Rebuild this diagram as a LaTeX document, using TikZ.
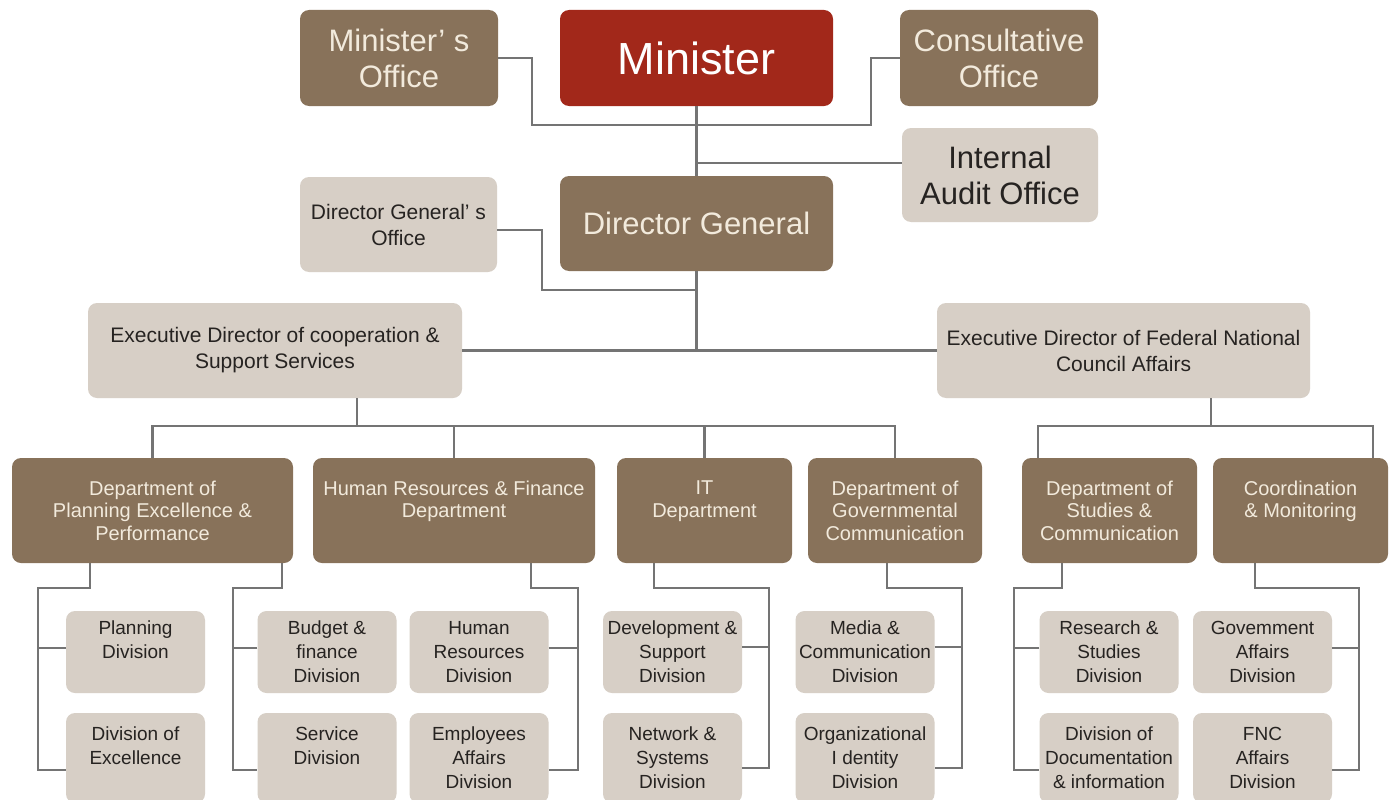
\documentclass[tikz,border=0pt]{standalone}
\usepackage{fontspec}
\setmainfont{Liberation Sans}
\definecolor{boxbrown}{HTML}{88725A}
\definecolor{boxred}{HTML}{A2281A}
\definecolor{boxgray}{HTML}{D7CFC6}
\definecolor{linegray}{HTML}{747474}
\definecolor{cream}{HTML}{F2EADC}
\definecolor{ink}{HTML}{262321}
\begin{document}
\begin{tikzpicture}[x=1pt,y=-1pt,
  box/.style={rounded corners=9pt, align=center, inner sep=0pt},
  brownbox/.style={box, fill=boxbrown, text=cream},
  redbox/.style={box, fill=boxred, text=white},
  graybox/.style={box, fill=boxgray, text=ink},
  fhuge/.style={font=\fontsize{45}{50}\selectfont},
  fbig/.style={font=\fontsize{31}{36}\selectfont},
  fmid/.style={font=\fontsize{21}{26}\selectfont},
  fdept/.style={font=\fontsize{20}{22.5}\selectfont},
  fdiv/.style={font=\fontsize{19}{24}\selectfont},
  topbox/.style={minimum width=198pt, minimum height=96pt},
  deptbox/.style={brownbox, fdept, minimum height=105pt},
  divbox/.style={graybox, fdiv, minimum width=139pt},
  row1/.style={divbox, minimum height=82pt},
  row2/.style={divbox, minimum height=90pt},
  conn/.style={draw=linegray, line width=2.6pt},
]
\fill[white] (0,0) rectangle (1394,800);
\useasboundingbox (0,0) rectangle (1394,800);

% top management
\node[brownbox, fbig, topbox] (mo) at (399,58) {Minister’ s\\Office};
\node[redbox, fhuge, minimum width=273pt, minimum height=96pt] (min) at (696.5,58) {Minister};
\node[brownbox, fbig, topbox] (co) at (999,58) {Consultative\\Office};
\node[graybox, fbig, minimum width=196pt, minimum height=94pt] (ia) at (1000,175) {Internal\\Audit Office};
\node[brownbox, fbig, minimum width=273pt, minimum height=95pt] (dg) at (696.5,223.5) {Director General};
\node[graybox, fmid, minimum width=197pt, minimum height=95pt] (dgo) at (398.5,224.5) {Director General’ s\\Office};

% executive directors
\node[graybox, fmid, minimum width=374pt, minimum height=95pt] (ec) at (275,350.5) {Executive Director of cooperation \&\\Support Services};
\node[graybox, fmid, minimum width=373pt, minimum height=95pt] (ef) at (1123.5,350.5) {Executive Director of Federal National\\Council Affairs};

% departments
\node[deptbox, minimum width=281pt] (d1) at (152.5,510.5) {Department of\\Planning Excellence \&\\Performance};
\node[deptbox, minimum width=282pt] (d2) at (454,510.5) {Human Resources \& Finance\\Department\\~};
\node[deptbox, minimum width=175pt] (d3) at (704.5,510.5) {IT\\Department\\~};
\node[deptbox, minimum width=174pt] (d4) at (895,510.5) {Department of\\Governmental\\Communication};
\node[deptbox, minimum width=175pt] (d5) at (1109.5,510.5) {Department of\\Studies \&\\Communication};
\node[deptbox, minimum width=175pt] (d6) at (1300.5,510.5) {Coordination\\\& Monitoring\\~};

% divisions
\node[row1] (pl) at (135.5,652) {Planning\\Division\\~};
\node[row2] (ex) at (135.5,758) {Division of\\Excellence\\~};
\node[row1] (bf) at (327,652) {Budget \&\\finance\\Division};
\node[row2] (sv) at (327,758) {Service\\Division\\~};
\node[row1] (hr) at (479,652) {Human\\Resources\\Division};
\node[row2] (ea) at (479,758) {Employees\\Affairs\\Division};
\node[row1] (dv) at (672.5,652) {Development \&\\Support\\Division};
\node[row2] (nw) at (672.5,758) {Network \&\\Systems\\Division};
\node[row1] (md) at (865,652) {Media \&\\Communication\\Division};
\node[row2] (oi) at (865,758) {Organizational\\I dentity\\Division};
\node[row1] (rs) at (1109,652) {Research \&\\Studies\\Division};
\node[row2] (dc) at (1109,758) {Division of\\Documentation\\\& information};
\node[row1] (ga) at (1262.5,652) {Govemment\\Affairs\\Division};
\node[row2] (fa) at (1262.5,758) {FNC\\Affairs\\Division};

% connectors: top level
\draw[conn] (mo.east) -| (532,125) -- (871,125) |- (co.west);
\draw[conn] (min.south) -- (dg.north);
\draw[conn] (min.south |- 0,163) -- (ia.west |- 0,163);
\draw[conn] (dgo.east |- 0,230) -| (542,290) -- (dg.south |- 0,290);
\draw[conn] (dg.south) -- (dg.south |- ec.east);
\draw[conn] (ec.east) -- (ef.west);

% connectors: executive directors to departments
\draw[conn] ([xshift=82pt]ec.south) -- ([xshift=82pt]ec.south |- 0,426);
\draw[conn] (d1.north) |- (d4.north |- 0,426) -- (d4.north);
\draw[conn] (d2.north) -- (d2.north |- 0,426);
\draw[conn] (d3.north) -- (d3.north |- 0,426);
\draw[conn] ([xshift=87.5pt]ef.south) -- ([xshift=87.5pt]ef.south |- 0,426);
\draw[conn] ([xshift=-71.5pt]d5.north) |- ([xshift=72.5pt]d6.north |- 0,426) -- ([xshift=72.5pt]d6.north);

% connectors: departments to divisions
\draw[conn] ([xshift=-62.5pt]d1.south) |- (38,588) |- (ex.west |- 0,770);
\draw[conn] (pl.west |- 0,648) -- (38,648);
\draw[conn] ([xshift=129.5pt]d1.south) |- (233,588) |- (sv.west |- 0,770);
\draw[conn] (bf.west |- 0,648) -- (233,648);
\draw[conn] ([xshift=77pt]d2.south) |- (578,588) |- (ea.east |- 0,770);
\draw[conn] (hr.east |- 0,648) -- (578,648);
\draw[conn] ([xshift=-50.5pt]d3.south) |- (769,588) |- (nw.east |- 0,768);
\draw[conn] (dv.east |- 0,647) -- (769,647);
\draw[conn] ([xshift=-8pt]d4.south) |- (962,588) |- (oi.east |- 0,768);
\draw[conn] (md.east |- 0,647) -- (962,647);
\draw[conn] ([xshift=-47.5pt]d5.south) |- (1014,588) |- (dc.west |- 0,770);
\draw[conn] (rs.west |- 0,648) -- (1014,648);
\draw[conn] ([xshift=-45.5pt]d6.south) |- (1359,588) |- (fa.east |- 0,770);
\draw[conn] (ga.east |- 0,648) -- (1359,648);
\end{tikzpicture}
\end{document}
